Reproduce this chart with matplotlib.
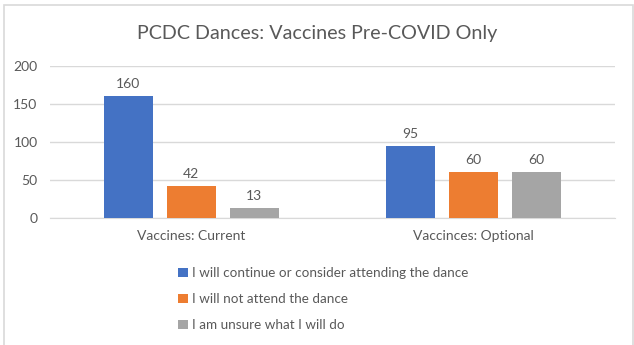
import matplotlib.pyplot as plt
import matplotlib.patches as mpatches
import numpy as np

categories = ["Vaccines: Current", "Vaccinces: Optional"]
series_names = ["I will continue or consider attending the dance",
                "I will not attend the dance",
                "I am unsure what I will do"]
continue_vals = [160, 95]
not_attend_vals = [42, 60]
unsure_vals = [13, 60]
yticks = [0, 50, 100, 150, 200]

colors = ["#4472C4", "#ED7D31", "#A5A5A5"]
text_color = "#595959"

plt.rcParams["font.family"] = ["Lato", "DejaVu Sans"]

fig = plt.figure(figsize=(6.34, 3.45), dpi=100)
ax = fig.add_axes([50 / 634, 1 - 218 / 345, 565 / 634, 152 / 345])

x = np.arange(len(categories))
width = 0.173
step = 0.223
all_vals = [continue_vals, not_attend_vals, unsure_vals]
for i, (vals, name, c) in enumerate(zip(all_vals, series_names, colors)):
    bars = ax.bar(x + (i - 1) * step, vals, width, color=c, label=name, zorder=3)
    for b, v in zip(bars, vals):
        ax.text(b.get_x() + b.get_width() / 2, v + 8, str(v), ha="center", va="bottom",
                fontsize=10, color=text_color)

ax.set_xlim(-0.5, 1.5)
ax.set_ylim(0, 200)
ax.set_yticks(yticks)
ax.set_xticks(x)
ax.set_xticklabels(categories)
ax.tick_params(axis="both", length=0, labelsize=10, labelcolor=text_color)
ax.tick_params(axis="x", pad=9)
ax.tick_params(axis="y", pad=9)
ax.grid(axis="y", color="#D9D9D9", linewidth=1, zorder=0)
for s in ["top", "right", "left"]:
    ax.spines[s].set_visible(False)
ax.spines["bottom"].set_color("#D9D9D9")

fig.text(0.5, 1 - 33 / 345, "PCDC Dances: Vaccines Pre-COVID Only", ha="center", va="center",
         fontsize=14.2, color=text_color)

leg = fig.legend(loc="upper left", bbox_to_anchor=(166 / 634, 1 - 255 / 345), frameon=False,
                 fontsize=9.7, labelcolor=text_color, handlelength=0.7, handleheight=0.7,
                 handletextpad=0.3, labelspacing=1.05)

fig.patches.append(mpatches.Rectangle((4 / 634, -0.05), 629 / 634, 1.05 - 5 / 345,
                                      transform=fig.transFigure, fill=False,
                                      edgecolor="#D9D9D9", linewidth=1.2))

fig.savefig("out.png", dpi=100)
